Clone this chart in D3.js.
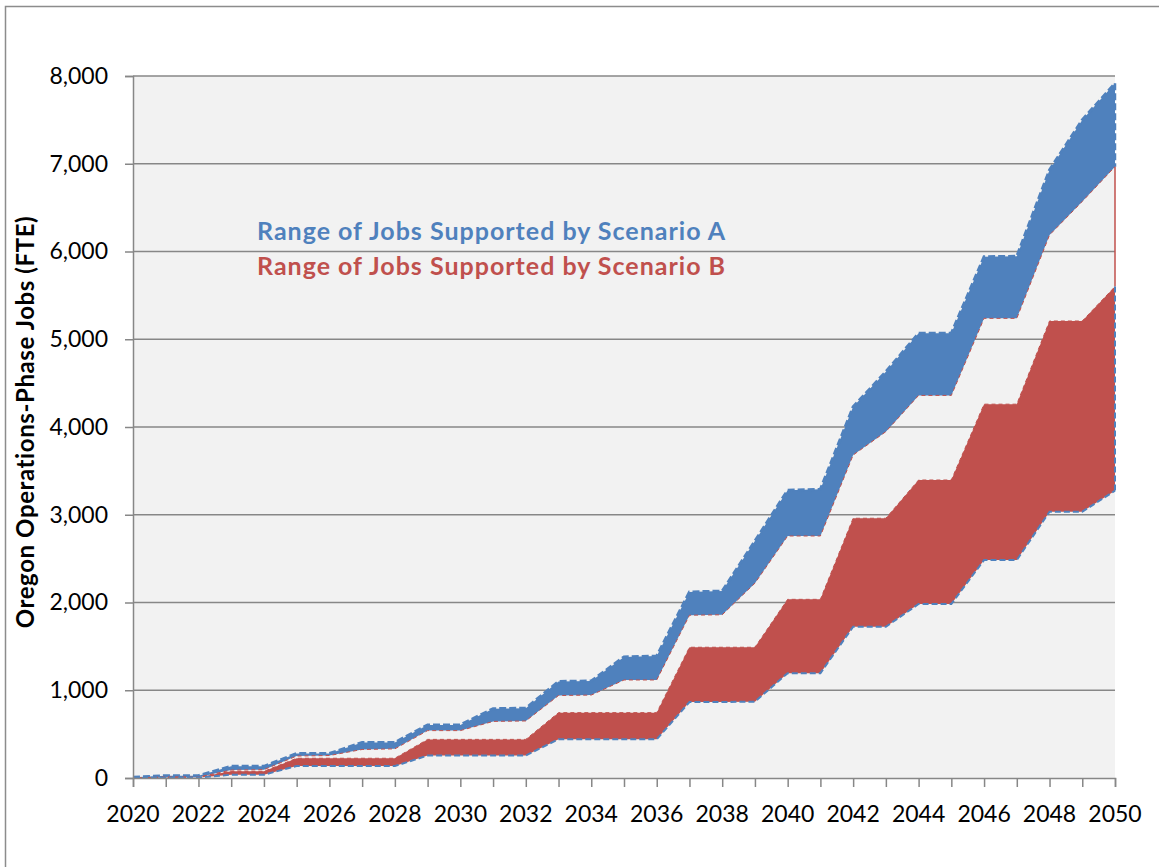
<!DOCTYPE html>
<html>
<head>
<meta charset="utf-8">
<script src="https://cdn.jsdelivr.net/npm/d3@7"></script>
<style>
    body { margin: 0; background: #fff; }
    text { font-family: Lato, "Liberation Sans", sans-serif; }
</style>
</head>
<body>
<div id="chart"></div>
<script>
var years = d3.range(2020, 2051);

// Scenario A range (blue band)
var aHigh = [8, 27, 27, 133, 133, 279, 279, 405, 405, 605, 605, 790, 795, 1100, 1105,
    1380, 1390, 2120, 2130, 2700, 3280, 3290, 4230, 4630, 5067, 5067, 5940, 5945, 6930, 7500, 7916];
var aLow = [0, 11, 11, 90, 95, 250, 256, 325, 332, 540, 540, 645, 650, 940, 945,
    1117, 1117, 1855, 1860, 2220, 2758, 2758, 3680, 3947, 4360, 4360, 5238, 5238, 6188, 6570, 6967];

// Scenario B range (red band)
var bHigh = [0, 8, 8, 76, 76, 225, 225, 225, 225, 440, 440, 440, 440, 745, 745,
    745, 745, 1490, 1490, 1490, 2036, 2036, 2960, 2960, 3396, 3396, 4260, 4260, 5208, 5208, 5600];
var bLow = [0, 3, 5, 38, 38, 136, 136, 136, 136, 256, 256, 256, 256, 442, 442,
    442, 442, 866, 866, 870, 1195, 1195, 1724, 1724, 1983, 1983, 2484, 2484, 3035, 3035, 3274];

var yTicks = [0, 1000, 2000, 3000, 4000, 5000, 6000, 7000, 8000];
var xLabels = d3.range(2020, 2051, 2);
var legendLabels = ["Range of Jobs Supported by Scenario A", "Range of Jobs Supported by Scenario B"];

var blue = "#4F81BD",
    red = "#C0504D";

function makeChart() {
    var margin = {
            top: 76,
            right: 44,
            bottom: 89,
            left: 133,
        },
        width = 1159 - margin.left - margin.right,
        height = 867 - margin.top - margin.bottom;

    var root = d3
        .select("#chart")
        .append("svg")
        .attr("width", 1159)
        .attr("height", 867);

    // outer chart border
    root.append("rect")
        .attr("x", 5.5)
        .attr("y", 6.5)
        .attr("width", 1170)
        .attr("height", 880)
        .attr("fill", "none")
        .attr("stroke", "#8c8c8c")
        .attr("stroke-width", 1.5);

    var svg = root
        .append("g")
        .attr("transform", "translate(" + margin.left + "," + margin.top + ")");

    var x = d3.scaleLinear().domain([2020, 2050]).range([0, width]);
    var y = d3.scaleLinear().domain([0, 8000]).range([height, 0]);

    svg.append("rect")
        .attr("width", width)
        .attr("height", height)
        .attr("fill", "#F2F2F2");

    // gridlines
    svg.selectAll(".grid")
        .data(yTicks.filter((d) => d > 0))
        .enter()
        .append("line")
        .attr("class", "grid")
        .attr("x1", 0)
        .attr("x2", width)
        .attr("y1", (d) => y(d))
        .attr("y2", (d) => y(d))
        .attr("stroke", "#878787")
        .attr("stroke-width", 1.5);

    var rows = years.map((yr, i) => ({
        year: yr,
        aHigh: aHigh[i],
        aLow: aLow[i],
        bHigh: bHigh[i],
        bLow: bLow[i],
    }));

    var area = (lo, hi) =>
        d3
            .area()
            .x((d) => x(d.year))
            .y0((d) => y(d[lo]))
            .y1((d) => y(d[hi]));
    var line = (key) =>
        d3
            .line()
            .x((d) => x(d.year))
            .y((d) => y(d[key]));

    svg.append("path").datum(rows).attr("fill", blue).attr("d", area("aLow", "aHigh"));
    svg.append("path").datum(rows).attr("fill", red).attr("d", area("bLow", "bHigh"));

    // band edges
    svg.append("path")
        .datum(rows)
        .attr("fill", "none")
        .attr("stroke", blue)
        .attr("stroke-width", 3)
        .attr("stroke-dasharray", "7,3")
        .attr("d", line("aHigh"));
    svg.append("path")
        .datum(rows)
        .attr("fill", "none")
        .attr("stroke", red)
        .attr("stroke-width", 1)
        .attr("stroke-dasharray", "4,3")
        .attr("d", line("aLow"));
    svg.append("path")
        .datum(rows)
        .attr("fill", "none")
        .attr("stroke", red)
        .attr("stroke-width", 1)
        .attr("stroke-dasharray", "4,3")
        .attr("d", line("bHigh"));
    svg.append("path")
        .datum(rows)
        .attr("fill", "none")
        .attr("stroke", blue)
        .attr("stroke-width", 2)
        .attr("stroke-dasharray", "6,3")
        .attr("d", line("bLow"));

    // closing edge at the last year
    var last = rows[rows.length - 1];
    var xe = x(last.year);
    svg.append("line")
        .attr("x1", xe).attr("x2", xe)
        .attr("y1", y(last.aHigh)).attr("y2", y(last.aLow))
        .attr("stroke", blue).attr("stroke-width", 2.5).attr("stroke-dasharray", "7,3");
    svg.append("line")
        .attr("x1", xe).attr("x2", xe)
        .attr("y1", y(last.aLow)).attr("y2", y(last.bHigh))
        .attr("stroke", red).attr("stroke-width", 1.5);
    svg.append("line")
        .attr("x1", xe).attr("x2", xe)
        .attr("y1", y(last.bHigh)).attr("y2", y(last.bLow))
        .attr("stroke", blue).attr("stroke-width", 2).attr("stroke-dasharray", "6,3");

    // axes
    var xAxis = svg
        .append("g")
        .attr("transform", "translate(0," + height + ")")
        .call(d3.axisBottom(x).tickValues(years).tickSize(9).tickFormat(""));
    xAxis.select(".domain").attr("stroke", "#878787").attr("stroke-width", 1.5);
    xAxis.selectAll(".tick line").attr("stroke", "#878787").attr("stroke-width", 1.5);

    svg.selectAll(".xlabel")
        .data(xLabels)
        .enter()
        .append("text")
        .attr("class", "xlabel")
        .attr("x", (d) => x(d))
        .attr("y", height + 44)
        .attr("text-anchor", "middle")
        .style("font-size", "23px")
        .style("fill", "#000")
        .text((d) => d);

    var yAxis = svg.append("g").call(
        d3
            .axisLeft(y)
            .tickValues(yTicks)
            .tickSize(8)
            .tickPadding(17)
            .tickFormat(d3.format(","))
    );
    yAxis.select(".domain").attr("stroke", "#878787").attr("stroke-width", 1.5);
    yAxis.selectAll(".tick line").attr("stroke", "#878787").attr("stroke-width", 1.5);
    yAxis.selectAll(".tick text")
        .style("font-size", "23px")
        .style("font-family", "Lato, 'Liberation Sans', sans-serif")
        .style("fill", "#000");

    root.append("text")
        .attr("transform", "translate(34,422) rotate(-90)")
        .attr("text-anchor", "middle")
        .style("font-size", "24px")
        .style("font-weight", "bold")
        .style("letter-spacing", "0.6px")
        .style("fill", "#000")
        .text("Oregon Operations-Phase Jobs (FTE)");

    root.selectAll(".legend")
        .data(legendLabels)
        .enter()
        .append("text")
        .attr("class", "legend")
        .attr("x", 257)
        .attr("y", (_, i) => 240 + i * 35)
        .style("font-size", "25px")
        .style("font-weight", "bold")
        .style("letter-spacing", "1px")
        .style("fill", (_, i) => (i === 0 ? blue : red))
        .text((d) => d);
}

makeChart();
</script>
</body>
</html>
